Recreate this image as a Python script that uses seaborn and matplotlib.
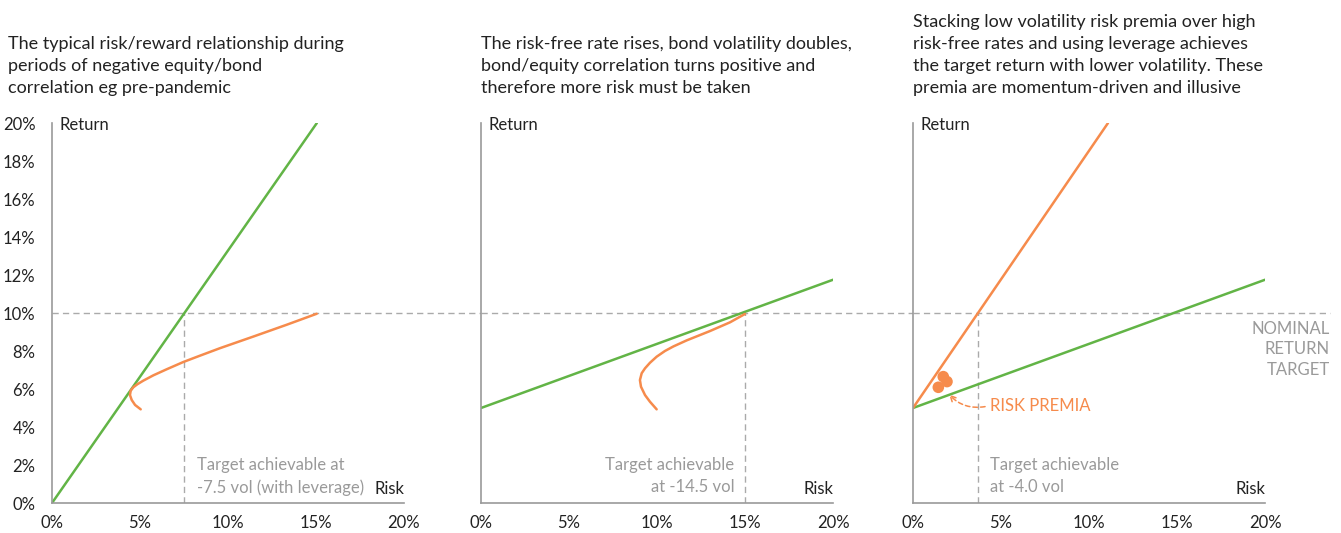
import numpy as np
import pandas as pd
import seaborn as sns
import matplotlib.pyplot as plt

# ============================================
# DATA (in %)
# ============================================

risk_ticks = [0, 5, 10, 15, 20]
return_ticks = [0, 2, 4, 6, 8, 10, 12, 14, 16, 18, 20]
target_return = 10

# panel 1 - pre-pandemic
p1_green_risk = [0, 15.05]
p1_green_ret = [0, 20]
p1_orange_risk = [5.04, 4.72, 4.53, 4.43, 4.47, 4.62, 4.85, 5.19, 5.76, 6.52,
                  7.46, 8.31, 9.55, 11.44, 13.33, 15.04]
p1_orange_ret = [4.93, 5.16, 5.42, 5.68, 5.91, 6.09, 6.25, 6.44, 6.72, 7.04,
                 7.42, 7.72, 8.15, 8.76, 9.38, 9.96]

# panel 2 - higher risk-free rate
p2_green_risk = [0, 20]
p2_green_ret = [5, 11.75]
p2_orange_risk = [9.98, 9.60, 9.32, 9.09, 9.03, 9.13, 9.32, 9.60, 9.98, 10.45,
                  10.93, 11.69, 13.01, 14.15, 15.0]
p2_orange_ret = [4.93, 5.33, 5.68, 6.12, 6.47, 6.83, 7.09, 7.38, 7.70, 8.0,
                 8.24, 8.56, 9.05, 9.51, 9.95]

# panel 3 - stacking risk premia
p3_green_risk = [0, 20]
p3_green_ret = [5, 11.75]
p3_orange_risk = [0, 11.08]
p3_orange_ret = [5, 20]
premia_risk = [1.44, 1.72, 1.93]
premia_ret = [6.09, 6.65, 6.39]

target_risk = [7.5, 15, 3.7]

titles = [
    "The typical risk/reward relationship during\nperiods of negative equity/bond\ncorrelation eg pre-pandemic",
    "The risk-free rate rises, bond volatility doubles,\nbond/equity correlation turns positive and\ntherefore more risk must be taken",
    "Stacking low volatility risk premia over high\nrisk-free rates and using leverage achieves\nthe target return with lower volatility. These\npremia are momentum-driven and illusive",
]

GREEN = "#62b446"
ORANGE = "#f68b4c"
GREY = "#9a9a9a"
DARK = "#222222"

# ============================================
# STYLE
# ============================================

sns.set_style("white")
plt.rcParams["font.family"] = ["Lato", "DejaVu Sans"]

fig = plt.figure(figsize=(13.41, 5.33), dpi=100)
W, H = 1341, 533
lefts = [52, 481, 913]
axes = [fig.add_axes([l / W, (H - 503) / H, 352 / W, 380 / H]) for l in lefts]


def line(ax, x, y, color):
    df = pd.DataFrame({"risk": x, "ret": y})
    sns.lineplot(data=df, x="risk", y="ret", ax=ax, color=color, lw=1.8,
                 sort=False, estimator=None)


line(axes[0], p1_green_risk, p1_green_ret, GREEN)
line(axes[0], p1_orange_risk, p1_orange_ret, ORANGE)
line(axes[1], p2_green_risk, p2_green_ret, GREEN)
line(axes[1], p2_orange_risk, p2_orange_ret, ORANGE)
line(axes[2], p3_green_risk, p3_green_ret, GREEN)
line(axes[2], p3_orange_risk, p3_orange_ret, ORANGE)
sns.scatterplot(x=premia_risk, y=premia_ret, ax=axes[2], color=ORANGE,
                s=70, edgecolor="none", zorder=5)

dash = (0, (4.5, 3))
ends = [481, 913, 1330]
for i, ax in enumerate(axes):
    ax.set_xlim(0, 20)
    ax.set_ylim(0, 20)
    ax.set_xlabel("")
    ax.set_ylabel("")
    ax.set_xticks(risk_ticks)
    ax.set_xticklabels([f"{t}%" for t in risk_ticks])
    ax.set_yticks(return_ticks)
    if i == 0:
        ax.set_yticklabels([f"{t}%" for t in return_ticks])
    else:
        ax.set_yticklabels([])
    ax.tick_params(length=0, labelsize=12, colors=DARK, pad=9)
    ax.tick_params(axis="y", pad=12)
    for s in ["top", "right"]:
        ax.spines[s].set_visible(False)
    for s in ["left", "bottom"]:
        ax.spines[s].set_color(GREY)
        ax.spines[s].set_linewidth(1.2)

    # nominal return target line runs across the panels
    ax.axhline(target_return, xmin=0, xmax=(ends[i] - lefts[i]) / 352,
               color="#aaaaaa", lw=1, ls=dash, clip_on=False, zorder=1)
    ax.plot([target_risk[i], target_risk[i]], [0, target_return],
            color="#aaaaaa", lw=1, ls=dash, zorder=1)

    ax.text(0.45, 19.9, "Return", fontsize=12, color=DARK, ha="left", va="center")
    ax.text(20, 0.75, "Risk", fontsize=12, color=DARK, ha="right", va="center")

    tx = -44 / 352 if i == 0 else 0
    ax.text(tx, 1.071, titles[i], transform=ax.transAxes, fontsize=13,
            color=DARK, ha="left", va="bottom", linespacing=1.45)

axes[0].text(8.25, 1.4, "Target achievable at\n-7.5 vol (with leverage)",
             fontsize=12, color=GREY, ha="left", va="center", linespacing=1.45)
axes[1].text(14.4, 1.4, "Target achievable\nat -14.5 vol",
             fontsize=12, color=GREY, ha="right", va="center", linespacing=1.45)
axes[2].text(4.35, 1.4, "Target achievable\nat -4.0 vol",
             fontsize=12, color=GREY, ha="left", va="center", linespacing=1.45)
axes[2].text(23.7, 8.1, "NOMINAL\nRETURN\nTARGET", fontsize=12, color=GREY,
             ha="right", va="center", linespacing=1.35, clip_on=False)
axes[2].text(4.35, 5.1, "RISK PREMIA", fontsize=12, color=ORANGE,
             ha="left", va="center")
axes[2].annotate("", xy=(1.95, 5.82), xytext=(4.25, 5.1),
                 arrowprops=dict(arrowstyle="->", color=ORANGE, lw=1.1,
                                 linestyle=(0, (3, 2)),
                                 connectionstyle="arc3,rad=-0.3"))

fig.savefig("out.png", dpi=100)
